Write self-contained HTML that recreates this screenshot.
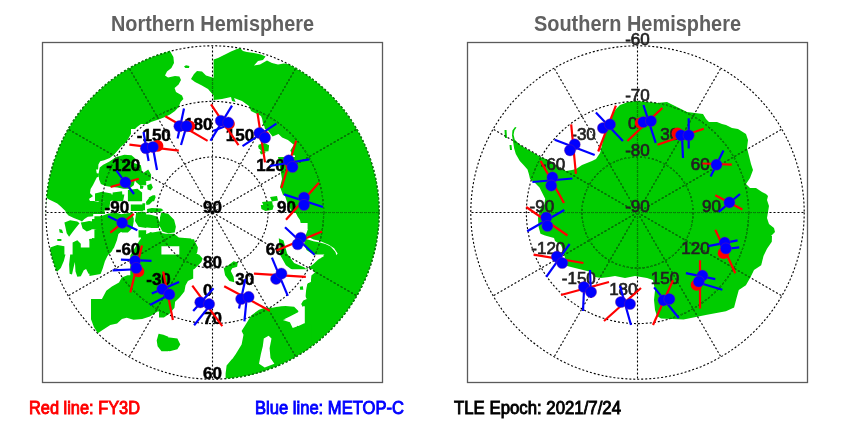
<!DOCTYPE html>
<html><head><meta charset="utf-8"><style>
html,body{margin:0;padding:0;background:#fff;width:850px;height:425px;overflow:hidden}
svg{display:block;will-change:transform}
.g{fill:none;stroke:#000;stroke-width:1.1;stroke-dasharray:2 2}
.gg{fill:none;stroke:#088f08;stroke-width:1.25;stroke-dasharray:2 2}
.t{font-family:"Liberation Sans",sans-serif;font-size:17.5px;fill:#000;stroke-width:0.9px}
.ln{font-family:"Liberation Sans",sans-serif;font-weight:bold;font-size:17px;fill:#000;stroke:#000;stroke-width:0.5px}
.ls{font-family:"Liberation Sans",sans-serif;font-size:17px;fill:#222;stroke:#222;stroke-width:0.7px}
.ttl{font-family:"Liberation Sans",sans-serif;font-weight:bold;font-size:22px;fill:#606060}
</style></head><body>
<svg width="850" height="425" viewBox="0 0 850 425">
<defs>
<clipPath id="cn"><circle cx="212.5" cy="212.5" r="166.7"/></clipPath>
<clipPath id="cs"><circle cx="637.5" cy="212.5" r="166.7"/></clipPath>
<mask id="mn" maskUnits="userSpaceOnUse" x="0" y="0" width="850" height="425"><rect x="0" y="0" width="850" height="425" fill="#000"/><path fill="#fff" d="M40.0,40.0 L129.0,40.0 L129.0,129.0 L40.0,129.0Z M125.0,40.0 L170.0,40.0 L170.0,51.0 L173.4,57.0 L174.0,63.0 L171.4,68.0 L167.0,71.6 L165.0,75.6 L168.0,77.6 L175.0,76.0 L179.4,76.4 L181.0,80.0 L178.6,84.4 L174.6,88.0 L176.0,92.0 L182.0,95.6 L183.4,99.0 L180.6,102.0 L178.6,107.0 L175.0,111.0 L170.0,114.4 L165.0,117.0 L160.0,119.0 L151.0,122.0 L139.0,129.0 L125.0,129.0Z M184.0,66.4 L186.0,65.2 L189.4,66.0 L189.0,68.0 L185.4,68.0Z M191.0,79.0 L194.0,74.0 L197.0,71.0 L202.0,71.6 L206.0,75.6 L214.0,78.0 L214.0,96.0 L208.0,89.0 L201.0,85.0 L195.0,82.0Z M213.6,59.6 L218.0,58.0 L224.0,55.0 L231.0,51.6 L237.0,49.0 L240.0,48.0 L243.0,51.0 L247.0,52.0 L254.0,53.0 L261.0,54.4 L265.6,56.4 L263.0,60.0 L258.0,61.0 L254.0,65.6 L260.0,64.4 L267.0,60.4 L272.0,63.0 L278.0,64.4 L284.0,63.6 L290.0,64.4 L299.0,66.0 L299.0,129.0 L265.0,129.0 L263.0,121.0 L261.0,116.0 L255.0,113.0 L251.0,111.0 L249.0,106.0 L242.0,101.0 L234.0,98.0 L235.6,102.0 L232.0,101.0 L231.0,97.0 L222.0,99.0 L213.6,100.0Z M295.0,40.0 L384.0,40.0 L384.0,129.0 L295.0,129.0Z M40.0,125.0 L129.0,125.0 L129.0,214.0 L40.0,214.0Z M125.0,125.0 L131.0,125.0 L131.0,141.0 L125.0,142.0Z M262.1,118.8 L306.2,118.8 L306.2,156.5 L292.6,155.3 L290.3,150.6 L293.8,144.7 L287.9,140.0 L282.1,137.6 L278.5,134.1 L272.6,136.5 L267.9,130.6 L263.2,124.7Z M258.5,144.7 L264.4,142.9 L269.1,145.3 L268.5,151.2 L262.1,151.8 L258.5,148.2Z M293.8,157.6 L306.2,157.6 L306.2,171.2 L293.8,171.2Z M299.0,157.0 L299.0,196.0 L283.0,195.0 L280.0,187.0 L282.0,179.0 L281.0,173.0 L278.0,157.0Z M258.0,146.0 L263.0,144.6 L266.4,147.0 L264.4,149.4 L259.0,149.0Z M259.6,151.4 L264.4,150.6 L265.6,153.0 L261.0,154.4Z M295.0,125.0 L384.0,125.0 L384.0,214.0 L295.0,214.0Z M290.8,203.8 L343.2,203.8 L343.2,256.2 L290.8,256.2Z M340.8,203.8 L393.2,203.8 L393.2,256.2 L340.8,256.2Z M290.8,253.8 L343.2,253.8 L343.2,306.2 L290.8,306.2Z M340.8,253.8 L393.2,253.8 L393.2,306.2 L340.8,306.2Z M304.8,289.0 L383.0,289.0 L383.0,373.0 L304.8,373.0Z"/><path fill="#000" d="M128.0,153.3 L122.5,154.3 L118.4,156.4 L114.9,159.2 L110.3,161.9 L105.3,163.4 L102.2,166.0 L101.7,171.0 L98.0,171.0 L98.4,164.4 L100.2,161.2 L104.2,160.2 L109.8,157.9 L114.4,154.3 L118.4,149.8 L120.9,146.7 L124.0,144.2 L128.0,141.2Z M96.1,169.5 L100.7,169.5 L100.2,175.1 L101.2,179.1 L98.7,184.2 L100.2,188.2 L104.2,190.2 L110.3,188.2 L116.4,186.7 L128.0,186.2 L128.0,191.8 L119.4,190.7 L114.4,192.3 L110.3,194.3 L107.3,195.3 L104.2,196.3 L102.2,199.4 L98.2,201.4 L94.1,200.4 L90.1,200.4 L89.1,198.8 L93.1,196.3 L90.1,193.3 L90.6,189.2 L93.1,185.2 L95.6,181.1 L97.2,176.1Z M150.0,124.0 L150.0,214.0 L105.0,214.0 L104.0,205.0 L102.0,199.0 L98.0,202.0 L94.0,201.0 L90.0,201.0 L89.0,199.0 L93.0,196.0 L90.0,193.0 L90.6,189.0 L93.0,185.0 L97.0,177.0 L97.5,172.0 L99.2,163.4 L108.3,159.4 L116.4,153.3 L122.5,145.7 L127.0,141.0 L132.0,132.0 L137.0,127.0 L141.0,124.0Z M40.0,196.0 L46.0,197.6 L49.0,199.4 L53.8,201.8 L57.3,203.5 L60.8,206.5 L64.4,210.0 L67.3,212.4 L67.3,214.5 L40.0,214.5Z M262.9,211.8 L295.3,211.8 L297.6,216.5 L300.0,220.0 L300.8,223.5 L304.1,226.5 L308.2,230.0 L262.9,230.0Z M266.5,222.9 L307.6,222.9 L307.6,230.0 L305.9,234.7 L304.1,244.1 L306.5,250.0 L313.5,254.7 L320.6,255.3 L324.1,256.1 L318.2,259.4 L313.5,264.1 L308.8,267.6 L305.9,270.0 L310.0,274.7 L307.6,281.8 L266.5,281.8Z M307.6,236.5 L313.5,239.4 L319.4,240.8 L324.1,242.7 L328.8,244.7 L334.1,248.2 L337.6,253.5 L336.5,255.3 L335.3,251.8 L330.6,246.5 L325.3,243.9 L320.0,242.4 L313.5,241.2 L305.3,238.8Z M287.3,254.4 L324.4,254.4 L321.4,257.9 L315.5,259.7 L312.0,263.2 L309.1,267.9 L313.8,270.9 L314.9,272.6 L311.4,275.6 L310.8,282.1 L307.3,283.2 L306.1,290.3 L305.5,297.4 L303.8,300.3 L301.4,299.1 L297.9,296.8 L294.4,297.9 L287.3,299.7Z"/><path fill="#fff" d="M270.0,197.0 L277.0,196.0 L278.0,200.6 L272.0,201.4Z M262.0,202.0 L272.0,201.0 L273.0,206.0 L264.0,207.0Z M266.0,206.6 L270.0,206.0 L270.4,209.0 L266.4,209.0Z M93.2,211.5 L93.2,216.2 L87.9,216.8 L84.4,219.1 L82.0,221.5 L79.6,220.3 L73.8,217.9 L68.5,215.6 L64.9,211.5Z M84.4,222.1 L89.1,220.9 L93.2,221.5 L93.2,228.5 L90.2,230.3 L86.7,231.5 L82.6,228.5 L80.8,222.6Z M64.4,222.6 L70.2,220.3 L77.3,221.5 L79.6,223.2 L76.1,227.4 L72.6,232.1 L69.1,236.8 L66.7,233.2 L65.5,227.4Z M59.1,229.1 L62.0,229.7 L63.2,233.2 L59.6,232.6Z M57.3,239.1 L61.4,239.1 L61.4,240.9 L57.3,240.9Z M50.2,247.4 L57.3,245.0 L64.4,246.2 L64.4,256.2 L50.2,256.2Z M72.6,242.6 L77.3,240.3 L80.8,243.8 L80.8,247.4 L93.2,247.4 L93.2,256.2 L72.6,256.2Z M89.1,239.1 L93.2,238.5 L93.2,243.8 L89.6,243.8Z M92.0,219.1 L97.9,218.5 L101.4,221.5 L101.4,228.5 L96.7,229.7 L92.0,229.1Z M92.0,237.9 L97.9,238.5 L97.9,244.4 L92.0,245.0Z M130.8,204.4 L143.2,204.4 L143.2,210.9 L130.8,210.9Z M91.4,204.4 L102.6,204.4 L102.6,210.9 L91.4,211.5Z M191.4,241.5 L195.5,242.6 L197.9,247.4 L197.3,252.1 L195.5,256.2 L191.4,256.2Z M260.8,205.0 L267.9,204.4 L273.8,205.6 L272.6,209.7 L265.5,210.9 L261.4,209.1Z M289.4,258.8 L293.5,262.9 L299.4,267.1 L305.3,268.6 L308.2,268.2 L306.5,270.6 L300.6,271.2 L294.7,268.8 L289.4,265.3Z M278.8,238.2 L283.5,240.6 L287.1,253.5 L294.1,262.9 L304.7,267.6 L305.9,271.2 L294.1,271.2 L285.9,265.3 L280.0,254.7Z M41.4,254.4 L65.5,254.4 L63.8,260.9 L60.8,267.9 L57.3,271.5 L41.4,271.5Z M70.2,254.4 L93.2,254.4 L93.2,273.2 L88.5,273.8 L86.1,269.1 L83.8,270.3 L80.8,276.2 L77.3,276.8 L75.5,271.5 L74.9,262.1 L73.2,269.1 L72.0,274.4 L69.6,273.8 L69.1,264.4Z M141.4,254.4 L189.1,254.4 L193.2,257.4 L193.2,278.5 L187.9,280.9 L185.5,285.6 L184.4,291.5 L179.6,297.4 L174.9,302.1 L172.6,306.2 L141.4,306.2Z M191.4,254.4 L199.1,254.4 L202.6,258.5 L201.4,262.1 L197.9,265.6 L194.4,269.1 L191.4,270.3Z M291.4,265.6 L296.7,267.9 L301.4,269.1 L304.9,269.1 L303.8,271.5 L299.1,272.6 L291.4,272.6Z M299.1,285.6 L302.0,286.2 L302.6,290.3 L299.6,290.3Z M91.0,299.0 L168.3,299.0 L168.3,310.6 L157.6,311.6 L149.9,316.4 L142.2,318.9 L133.5,319.7 L126.7,317.8 L121.9,318.9 L117.1,323.6 L110.3,325.1 L102.6,329.9 L97.8,333.2 L93.9,327.0 L91.0,319.3Z M158.6,333.8 L163.4,334.7 L168.3,336.7 L168.3,351.2 L161.5,351.2 L157.6,346.3 L156.7,340.5Z M159.0,299.0 L175.4,299.0 L174.5,307.7 L169.7,313.5 L163.9,317.4 L159.0,317.4Z M159.0,333.8 L163.9,336.7 L169.7,337.6 L177.4,338.6 L180.3,344.4 L177.4,349.2 L169.7,351.2 L163.9,349.2 L159.0,346.3Z M225.6,373.4 L226.6,365.6 L231.4,359.8 L237.2,354.1 L241.1,350.2 L241.1,384.9 L225.6,384.9Z M229.0,363.7 L235.8,354.1 L241.6,344.4 L243.5,334.7 L241.6,330.9 L245.4,325.1 L251.2,315.4 L259.0,309.7 L264.7,307.7 L272.5,307.7 L282.1,305.8 L293.7,305.8 L299.5,302.9 L303.4,305.8 L299.5,311.6 L295.6,313.5 L289.8,316.4 L284.1,319.3 L287.9,320.3 L295.6,321.2 L293.7,325.1 L298.5,326.1 L304.3,323.2 L311.1,325.1 L311.1,384.9 L229.0,384.9Z M284.0,193.0 L300.0,193.0 L300.0,213.0 L293.0,213.0 L288.0,205.0Z M100.0,216.3 L102.8,215.6 L108.5,213.5 L116.9,212.8 L124.0,215.6 L132.5,214.9 L133.9,219.1 L131.1,226.2 L128.2,231.8 L121.2,231.8 L118.4,234.0 L116.9,240.3 L114.1,247.4 L111.3,251.6 L105.6,258.0 L94.4,261.5 L94.4,216.3Z M141.0,237.5 L148.0,233.2 L161.4,231.1 L161.4,266.4 L138.1,266.4 L141.0,251.6 L140.3,243.1Z M94.3,239.3 L116.2,239.3 L114.8,245.6 L111.9,251.3 L107.7,255.5 L104.9,261.2 L102.8,268.2 L100.6,273.9 L89.4,276.0 L89.4,239.3Z M100.6,301.4 L106.3,290.8 L111.9,286.6 L119.0,282.4 L121.8,277.4 L127.5,275.3 L130.3,275.3 L130.3,255.5 L140.2,239.3 L156.4,239.3 L156.4,301.4Z M98.5,174.1 L99.7,167.6 L103.2,164.7 L109.1,161.8 L116.2,157.1 L124.4,154.7 L131.5,155.3 L135.0,158.2 L133.8,162.9 L140.9,165.3 L142.1,172.4 L139.7,177.1 L135.0,179.4 L133.8,185.3 L129.1,188.8 L123.2,188.8 L117.4,187.6 L111.5,187.1 L105.6,185.9 L100.9,184.1 L99.1,179.4Z M95.0,172.9 L98.5,173.5 L98.5,177.1 L95.0,177.6Z M95.0,193.5 L102.1,191.8 L111.5,193.5 L111.5,201.2 L95.0,201.2Z M112.6,192.4 L122.1,191.2 L122.6,201.2 L112.6,201.2Z M127.9,190.0 L137.4,188.8 L142.1,192.4 L142.1,201.2 L127.9,201.2Z M135.0,173.5 L142.1,172.4 L146.2,174.7 L146.2,185.3 L139.7,185.3 L135.6,181.8Z M142.4,173.5 L148.2,169.4 L151.2,174.7 L150.6,180.6 L144.7,181.2 L140.0,179.4 L140.0,175.3Z M147.1,185.3 L151.2,183.5 L152.9,187.6 L150.6,190.6 L147.6,189.4Z M140.0,185.3 L143.5,185.9 L142.9,188.8 L140.0,188.8Z M148.8,197.6 L152.9,195.3 L155.9,196.5 L154.1,201.2 L148.2,201.2Z M95.0,195.0 L102.1,195.0 L101.5,199.7 L95.0,199.7Z M110.3,194.4 L124.4,194.4 L123.2,200.9 L110.3,200.3Z M130.3,194.4 L139.7,194.4 L139.1,200.9 L130.3,200.9Z M95.0,202.1 L99.7,202.1 L99.7,210.3 L95.0,210.3Z M100.9,201.5 L110.3,200.9 L109.1,210.3 L100.9,210.3Z M133.8,204.4 L145.0,204.4 L145.0,210.3 L133.8,210.3Z M103.2,218.5 L107.9,215.0 L115.0,215.0 L124.4,213.8 L132.6,212.6 L133.8,220.9 L132.6,227.9 L127.9,232.6 L122.1,232.6 L118.5,230.3 L115.0,233.8 L110.3,237.4 L106.8,246.2 L102.1,246.2 L102.1,230.3 L102.1,223.2Z M95.0,217.4 L99.7,218.5 L100.9,225.6 L95.0,227.9Z M136.2,212.6 L142.1,211.5 L146.2,212.6 L146.2,227.9 L138.5,226.8 L135.0,220.9Z M138.5,230.3 L146.2,230.3 L146.2,237.4 L138.5,237.4Z M95.0,232.6 L99.7,232.6 L99.7,239.7 L95.0,239.7Z M145.9,202.1 L149.4,197.4 L155.3,195.0 L154.1,199.7 L149.4,204.4 L146.5,205.0Z M142.4,203.2 L145.3,203.2 L144.7,209.1 L142.4,209.1Z M147.1,209.1 L151.8,207.9 L161.2,208.5 L163.5,210.3 L160.0,212.1 L154.1,212.6 L147.1,212.6Z M140.0,214.4 L144.7,213.8 L151.8,215.0 L157.6,216.8 L160.0,223.2 L158.8,227.9 L151.8,227.9 L140.0,226.8Z M161.2,212.6 L168.2,213.8 L174.1,219.7 L175.9,226.8 L174.7,232.6 L168.2,233.2 L162.4,231.5 L159.4,225.6 L160.0,217.4Z M141.2,239.7 L144.7,235.6 L150.6,232.1 L155.3,233.8 L158.8,232.6 L165.9,233.8 L174.1,233.8 L178.8,237.4 L191.2,238.5 L191.2,246.2 L140.0,246.2Z M179.3,239.3 L194.1,239.3 L196.9,248.5 L193.4,251.3 L197.6,254.1 L201.9,258.3 L195.5,264.0 L193.4,268.2 L191.3,276.7 L187.1,282.3 L180.0,296.4 L179.3,296.4Z M223.7,268.2 L228.0,265.4 L233.6,261.2 L237.8,262.6 L237.1,266.8 L232.2,268.2 L230.8,271.0 L233.6,276.7 L234.3,282.3 L229.4,280.9 L225.1,275.3Z"/><path fill="#000" d="M263.8,338.6 L268.6,335.7 L271.5,338.6 L269.6,348.3 L270.5,357.9 L274.4,363.7 L264.7,367.6 L259.0,363.7 L260.9,354.1 L262.8,346.3Z M277.2,269.3 L313.2,269.3 L310.4,274.2 L311.1,281.3 L307.5,283.4 L305.4,288.4 L304.7,295.4 L306.8,299.0 L303.3,300.4 L301.2,303.9 L303.3,308.1 L300.5,312.4 L301.9,316.6 L301.2,320.8 L298.4,323.7 L296.9,326.5 L292.7,327.9 L289.9,322.3 L282.8,320.1 L292.7,318.0 L297.7,315.2 L298.4,311.0 L294.1,306.7 L285.6,306.0 L277.2,306.4Z"/><path fill="#fff" d="M299.8,286.7 L302.9,286.2 L303.3,289.8 L300.1,289.8Z"/></mask>
<mask id="ms" maskUnits="userSpaceOnUse" x="0" y="0" width="850" height="425"><rect x="0" y="0" width="850" height="425" fill="#000"/><path fill="#fff" d="M637.0,101.0 L647.0,102.0 L657.0,103.0 L667.0,102.0 L673.0,105.0 L679.0,108.0 L687.0,112.0 L695.0,113.0 L703.0,114.0 L706.0,119.0 L709.0,122.0 L717.0,122.0 L722.0,124.0 L726.0,125.0 L732.0,128.0 L738.0,129.0 L746.0,134.0 L748.0,140.0 L747.0,148.0 L749.0,156.0 L751.0,164.0 L753.0,170.0 L750.0,178.0 L746.0,184.0 L750.0,188.0 L756.0,188.0 L762.0,192.0 L766.0,194.0 L768.0,196.0 L767.0,200.0 L769.0,206.0 L768.0,212.0 L767.0,218.0 L769.0,224.0 L774.0,228.0 L775.0,232.0 L771.0,236.0 L772.0,236.0 L771.8,241.8 L767.0,248.8 L763.5,255.9 L761.2,265.3 L754.0,270.0 L750.6,277.0 L745.9,285.3 L738.8,290.0 L736.5,298.2 L734.1,307.6 L725.9,311.2 L707.0,314.7 L683.5,319.4 L661.0,318.5 L657.0,316.0 L655.0,310.0 L654.0,300.0 L655.0,290.0 L653.0,280.0 L647.0,278.0 L635.0,276.0 L625.0,278.0 L615.0,276.0 L609.0,277.0 L601.0,278.0 L595.0,277.0 L591.0,272.0 L583.0,270.0 L575.0,268.0 L567.0,266.0 L565.0,258.0 L563.0,250.0 L561.0,245.0 L555.0,241.0 L554.0,238.0 L545.0,235.6 L540.5,233.7 L538.6,227.0 L538.0,218.0 L540.5,208.2 L544.3,204.5 L545.2,198.8 L542.4,193.2 L539.5,187.5 L534.8,182.8 L530.0,179.0 L529.0,174.4 L527.5,169.4 L524.0,165.5 L519.8,161.0 L515.8,153.9 L514.1,148.2 L513.0,141.2 L512.0,135.5 L512.4,130.6 L515.0,127.0 L516.5,127.5 L514.4,130.6 L513.6,134.8 L514.8,139.8 L519.8,144.7 L525.4,148.2 L531.1,151.4 L536.0,154.2 L540.3,157.0 L546.0,159.0 L552.0,162.0 L560.0,168.0 L566.0,171.0 L572.0,170.0 L576.0,169.0 L582.0,165.0 L592.0,161.0 L596.0,159.0 L600.0,153.0 L602.0,145.0 L604.0,135.0 L608.0,125.0 L612.0,115.0 L616.0,109.0 L620.0,105.0 L628.0,102.0Z M504.5,130.0 L506.5,130.0 L507.0,138.0 L505.0,138.0Z M509.5,145.0 L511.5,145.0 L512.0,150.0 L510.0,150.0Z"/></mask>
</defs>
<rect x="42.5" y="42.5" width="340" height="340" fill="none" stroke="#5a5a5a" stroke-width="1.3"/>
<rect x="467.5" y="42.5" width="340" height="340" fill="none" stroke="#5a5a5a" stroke-width="1.3"/>
<g clip-path="url(#cn)"><path fill="#00cc00" d="M40.0,40.0 L129.0,40.0 L129.0,129.0 L40.0,129.0Z M125.0,40.0 L170.0,40.0 L170.0,51.0 L173.4,57.0 L174.0,63.0 L171.4,68.0 L167.0,71.6 L165.0,75.6 L168.0,77.6 L175.0,76.0 L179.4,76.4 L181.0,80.0 L178.6,84.4 L174.6,88.0 L176.0,92.0 L182.0,95.6 L183.4,99.0 L180.6,102.0 L178.6,107.0 L175.0,111.0 L170.0,114.4 L165.0,117.0 L160.0,119.0 L151.0,122.0 L139.0,129.0 L125.0,129.0Z M184.0,66.4 L186.0,65.2 L189.4,66.0 L189.0,68.0 L185.4,68.0Z M191.0,79.0 L194.0,74.0 L197.0,71.0 L202.0,71.6 L206.0,75.6 L214.0,78.0 L214.0,96.0 L208.0,89.0 L201.0,85.0 L195.0,82.0Z M213.6,59.6 L218.0,58.0 L224.0,55.0 L231.0,51.6 L237.0,49.0 L240.0,48.0 L243.0,51.0 L247.0,52.0 L254.0,53.0 L261.0,54.4 L265.6,56.4 L263.0,60.0 L258.0,61.0 L254.0,65.6 L260.0,64.4 L267.0,60.4 L272.0,63.0 L278.0,64.4 L284.0,63.6 L290.0,64.4 L299.0,66.0 L299.0,129.0 L265.0,129.0 L263.0,121.0 L261.0,116.0 L255.0,113.0 L251.0,111.0 L249.0,106.0 L242.0,101.0 L234.0,98.0 L235.6,102.0 L232.0,101.0 L231.0,97.0 L222.0,99.0 L213.6,100.0Z M295.0,40.0 L384.0,40.0 L384.0,129.0 L295.0,129.0Z M40.0,125.0 L129.0,125.0 L129.0,214.0 L40.0,214.0Z M125.0,125.0 L131.0,125.0 L131.0,141.0 L125.0,142.0Z M262.1,118.8 L306.2,118.8 L306.2,156.5 L292.6,155.3 L290.3,150.6 L293.8,144.7 L287.9,140.0 L282.1,137.6 L278.5,134.1 L272.6,136.5 L267.9,130.6 L263.2,124.7Z M258.5,144.7 L264.4,142.9 L269.1,145.3 L268.5,151.2 L262.1,151.8 L258.5,148.2Z M293.8,157.6 L306.2,157.6 L306.2,171.2 L293.8,171.2Z M299.0,157.0 L299.0,196.0 L283.0,195.0 L280.0,187.0 L282.0,179.0 L281.0,173.0 L278.0,157.0Z M258.0,146.0 L263.0,144.6 L266.4,147.0 L264.4,149.4 L259.0,149.0Z M259.6,151.4 L264.4,150.6 L265.6,153.0 L261.0,154.4Z M295.0,125.0 L384.0,125.0 L384.0,214.0 L295.0,214.0Z M290.8,203.8 L343.2,203.8 L343.2,256.2 L290.8,256.2Z M340.8,203.8 L393.2,203.8 L393.2,256.2 L340.8,256.2Z M290.8,253.8 L343.2,253.8 L343.2,306.2 L290.8,306.2Z M340.8,253.8 L393.2,253.8 L393.2,306.2 L340.8,306.2Z M304.8,289.0 L383.0,289.0 L383.0,373.0 L304.8,373.0Z"/><path fill="#fff" d="M128.0,153.3 L122.5,154.3 L118.4,156.4 L114.9,159.2 L110.3,161.9 L105.3,163.4 L102.2,166.0 L101.7,171.0 L98.0,171.0 L98.4,164.4 L100.2,161.2 L104.2,160.2 L109.8,157.9 L114.4,154.3 L118.4,149.8 L120.9,146.7 L124.0,144.2 L128.0,141.2Z M96.1,169.5 L100.7,169.5 L100.2,175.1 L101.2,179.1 L98.7,184.2 L100.2,188.2 L104.2,190.2 L110.3,188.2 L116.4,186.7 L128.0,186.2 L128.0,191.8 L119.4,190.7 L114.4,192.3 L110.3,194.3 L107.3,195.3 L104.2,196.3 L102.2,199.4 L98.2,201.4 L94.1,200.4 L90.1,200.4 L89.1,198.8 L93.1,196.3 L90.1,193.3 L90.6,189.2 L93.1,185.2 L95.6,181.1 L97.2,176.1Z M150.0,124.0 L150.0,214.0 L105.0,214.0 L104.0,205.0 L102.0,199.0 L98.0,202.0 L94.0,201.0 L90.0,201.0 L89.0,199.0 L93.0,196.0 L90.0,193.0 L90.6,189.0 L93.0,185.0 L97.0,177.0 L97.5,172.0 L99.2,163.4 L108.3,159.4 L116.4,153.3 L122.5,145.7 L127.0,141.0 L132.0,132.0 L137.0,127.0 L141.0,124.0Z M40.0,196.0 L46.0,197.6 L49.0,199.4 L53.8,201.8 L57.3,203.5 L60.8,206.5 L64.4,210.0 L67.3,212.4 L67.3,214.5 L40.0,214.5Z M262.9,211.8 L295.3,211.8 L297.6,216.5 L300.0,220.0 L300.8,223.5 L304.1,226.5 L308.2,230.0 L262.9,230.0Z M266.5,222.9 L307.6,222.9 L307.6,230.0 L305.9,234.7 L304.1,244.1 L306.5,250.0 L313.5,254.7 L320.6,255.3 L324.1,256.1 L318.2,259.4 L313.5,264.1 L308.8,267.6 L305.9,270.0 L310.0,274.7 L307.6,281.8 L266.5,281.8Z M307.6,236.5 L313.5,239.4 L319.4,240.8 L324.1,242.7 L328.8,244.7 L334.1,248.2 L337.6,253.5 L336.5,255.3 L335.3,251.8 L330.6,246.5 L325.3,243.9 L320.0,242.4 L313.5,241.2 L305.3,238.8Z M287.3,254.4 L324.4,254.4 L321.4,257.9 L315.5,259.7 L312.0,263.2 L309.1,267.9 L313.8,270.9 L314.9,272.6 L311.4,275.6 L310.8,282.1 L307.3,283.2 L306.1,290.3 L305.5,297.4 L303.8,300.3 L301.4,299.1 L297.9,296.8 L294.4,297.9 L287.3,299.7Z"/><path fill="#00cc00" d="M270.0,197.0 L277.0,196.0 L278.0,200.6 L272.0,201.4Z M262.0,202.0 L272.0,201.0 L273.0,206.0 L264.0,207.0Z M266.0,206.6 L270.0,206.0 L270.4,209.0 L266.4,209.0Z M93.2,211.5 L93.2,216.2 L87.9,216.8 L84.4,219.1 L82.0,221.5 L79.6,220.3 L73.8,217.9 L68.5,215.6 L64.9,211.5Z M84.4,222.1 L89.1,220.9 L93.2,221.5 L93.2,228.5 L90.2,230.3 L86.7,231.5 L82.6,228.5 L80.8,222.6Z M64.4,222.6 L70.2,220.3 L77.3,221.5 L79.6,223.2 L76.1,227.4 L72.6,232.1 L69.1,236.8 L66.7,233.2 L65.5,227.4Z M59.1,229.1 L62.0,229.7 L63.2,233.2 L59.6,232.6Z M57.3,239.1 L61.4,239.1 L61.4,240.9 L57.3,240.9Z M50.2,247.4 L57.3,245.0 L64.4,246.2 L64.4,256.2 L50.2,256.2Z M72.6,242.6 L77.3,240.3 L80.8,243.8 L80.8,247.4 L93.2,247.4 L93.2,256.2 L72.6,256.2Z M89.1,239.1 L93.2,238.5 L93.2,243.8 L89.6,243.8Z M92.0,219.1 L97.9,218.5 L101.4,221.5 L101.4,228.5 L96.7,229.7 L92.0,229.1Z M92.0,237.9 L97.9,238.5 L97.9,244.4 L92.0,245.0Z M130.8,204.4 L143.2,204.4 L143.2,210.9 L130.8,210.9Z M91.4,204.4 L102.6,204.4 L102.6,210.9 L91.4,211.5Z M191.4,241.5 L195.5,242.6 L197.9,247.4 L197.3,252.1 L195.5,256.2 L191.4,256.2Z M260.8,205.0 L267.9,204.4 L273.8,205.6 L272.6,209.7 L265.5,210.9 L261.4,209.1Z M289.4,258.8 L293.5,262.9 L299.4,267.1 L305.3,268.6 L308.2,268.2 L306.5,270.6 L300.6,271.2 L294.7,268.8 L289.4,265.3Z M278.8,238.2 L283.5,240.6 L287.1,253.5 L294.1,262.9 L304.7,267.6 L305.9,271.2 L294.1,271.2 L285.9,265.3 L280.0,254.7Z M41.4,254.4 L65.5,254.4 L63.8,260.9 L60.8,267.9 L57.3,271.5 L41.4,271.5Z M70.2,254.4 L93.2,254.4 L93.2,273.2 L88.5,273.8 L86.1,269.1 L83.8,270.3 L80.8,276.2 L77.3,276.8 L75.5,271.5 L74.9,262.1 L73.2,269.1 L72.0,274.4 L69.6,273.8 L69.1,264.4Z M141.4,254.4 L189.1,254.4 L193.2,257.4 L193.2,278.5 L187.9,280.9 L185.5,285.6 L184.4,291.5 L179.6,297.4 L174.9,302.1 L172.6,306.2 L141.4,306.2Z M191.4,254.4 L199.1,254.4 L202.6,258.5 L201.4,262.1 L197.9,265.6 L194.4,269.1 L191.4,270.3Z M291.4,265.6 L296.7,267.9 L301.4,269.1 L304.9,269.1 L303.8,271.5 L299.1,272.6 L291.4,272.6Z M299.1,285.6 L302.0,286.2 L302.6,290.3 L299.6,290.3Z M91.0,299.0 L168.3,299.0 L168.3,310.6 L157.6,311.6 L149.9,316.4 L142.2,318.9 L133.5,319.7 L126.7,317.8 L121.9,318.9 L117.1,323.6 L110.3,325.1 L102.6,329.9 L97.8,333.2 L93.9,327.0 L91.0,319.3Z M158.6,333.8 L163.4,334.7 L168.3,336.7 L168.3,351.2 L161.5,351.2 L157.6,346.3 L156.7,340.5Z M159.0,299.0 L175.4,299.0 L174.5,307.7 L169.7,313.5 L163.9,317.4 L159.0,317.4Z M159.0,333.8 L163.9,336.7 L169.7,337.6 L177.4,338.6 L180.3,344.4 L177.4,349.2 L169.7,351.2 L163.9,349.2 L159.0,346.3Z M225.6,373.4 L226.6,365.6 L231.4,359.8 L237.2,354.1 L241.1,350.2 L241.1,384.9 L225.6,384.9Z M229.0,363.7 L235.8,354.1 L241.6,344.4 L243.5,334.7 L241.6,330.9 L245.4,325.1 L251.2,315.4 L259.0,309.7 L264.7,307.7 L272.5,307.7 L282.1,305.8 L293.7,305.8 L299.5,302.9 L303.4,305.8 L299.5,311.6 L295.6,313.5 L289.8,316.4 L284.1,319.3 L287.9,320.3 L295.6,321.2 L293.7,325.1 L298.5,326.1 L304.3,323.2 L311.1,325.1 L311.1,384.9 L229.0,384.9Z M284.0,193.0 L300.0,193.0 L300.0,213.0 L293.0,213.0 L288.0,205.0Z M100.0,216.3 L102.8,215.6 L108.5,213.5 L116.9,212.8 L124.0,215.6 L132.5,214.9 L133.9,219.1 L131.1,226.2 L128.2,231.8 L121.2,231.8 L118.4,234.0 L116.9,240.3 L114.1,247.4 L111.3,251.6 L105.6,258.0 L94.4,261.5 L94.4,216.3Z M141.0,237.5 L148.0,233.2 L161.4,231.1 L161.4,266.4 L138.1,266.4 L141.0,251.6 L140.3,243.1Z M94.3,239.3 L116.2,239.3 L114.8,245.6 L111.9,251.3 L107.7,255.5 L104.9,261.2 L102.8,268.2 L100.6,273.9 L89.4,276.0 L89.4,239.3Z M100.6,301.4 L106.3,290.8 L111.9,286.6 L119.0,282.4 L121.8,277.4 L127.5,275.3 L130.3,275.3 L130.3,255.5 L140.2,239.3 L156.4,239.3 L156.4,301.4Z M98.5,174.1 L99.7,167.6 L103.2,164.7 L109.1,161.8 L116.2,157.1 L124.4,154.7 L131.5,155.3 L135.0,158.2 L133.8,162.9 L140.9,165.3 L142.1,172.4 L139.7,177.1 L135.0,179.4 L133.8,185.3 L129.1,188.8 L123.2,188.8 L117.4,187.6 L111.5,187.1 L105.6,185.9 L100.9,184.1 L99.1,179.4Z M95.0,172.9 L98.5,173.5 L98.5,177.1 L95.0,177.6Z M95.0,193.5 L102.1,191.8 L111.5,193.5 L111.5,201.2 L95.0,201.2Z M112.6,192.4 L122.1,191.2 L122.6,201.2 L112.6,201.2Z M127.9,190.0 L137.4,188.8 L142.1,192.4 L142.1,201.2 L127.9,201.2Z M135.0,173.5 L142.1,172.4 L146.2,174.7 L146.2,185.3 L139.7,185.3 L135.6,181.8Z M142.4,173.5 L148.2,169.4 L151.2,174.7 L150.6,180.6 L144.7,181.2 L140.0,179.4 L140.0,175.3Z M147.1,185.3 L151.2,183.5 L152.9,187.6 L150.6,190.6 L147.6,189.4Z M140.0,185.3 L143.5,185.9 L142.9,188.8 L140.0,188.8Z M148.8,197.6 L152.9,195.3 L155.9,196.5 L154.1,201.2 L148.2,201.2Z M95.0,195.0 L102.1,195.0 L101.5,199.7 L95.0,199.7Z M110.3,194.4 L124.4,194.4 L123.2,200.9 L110.3,200.3Z M130.3,194.4 L139.7,194.4 L139.1,200.9 L130.3,200.9Z M95.0,202.1 L99.7,202.1 L99.7,210.3 L95.0,210.3Z M100.9,201.5 L110.3,200.9 L109.1,210.3 L100.9,210.3Z M133.8,204.4 L145.0,204.4 L145.0,210.3 L133.8,210.3Z M103.2,218.5 L107.9,215.0 L115.0,215.0 L124.4,213.8 L132.6,212.6 L133.8,220.9 L132.6,227.9 L127.9,232.6 L122.1,232.6 L118.5,230.3 L115.0,233.8 L110.3,237.4 L106.8,246.2 L102.1,246.2 L102.1,230.3 L102.1,223.2Z M95.0,217.4 L99.7,218.5 L100.9,225.6 L95.0,227.9Z M136.2,212.6 L142.1,211.5 L146.2,212.6 L146.2,227.9 L138.5,226.8 L135.0,220.9Z M138.5,230.3 L146.2,230.3 L146.2,237.4 L138.5,237.4Z M95.0,232.6 L99.7,232.6 L99.7,239.7 L95.0,239.7Z M145.9,202.1 L149.4,197.4 L155.3,195.0 L154.1,199.7 L149.4,204.4 L146.5,205.0Z M142.4,203.2 L145.3,203.2 L144.7,209.1 L142.4,209.1Z M147.1,209.1 L151.8,207.9 L161.2,208.5 L163.5,210.3 L160.0,212.1 L154.1,212.6 L147.1,212.6Z M140.0,214.4 L144.7,213.8 L151.8,215.0 L157.6,216.8 L160.0,223.2 L158.8,227.9 L151.8,227.9 L140.0,226.8Z M161.2,212.6 L168.2,213.8 L174.1,219.7 L175.9,226.8 L174.7,232.6 L168.2,233.2 L162.4,231.5 L159.4,225.6 L160.0,217.4Z M141.2,239.7 L144.7,235.6 L150.6,232.1 L155.3,233.8 L158.8,232.6 L165.9,233.8 L174.1,233.8 L178.8,237.4 L191.2,238.5 L191.2,246.2 L140.0,246.2Z M179.3,239.3 L194.1,239.3 L196.9,248.5 L193.4,251.3 L197.6,254.1 L201.9,258.3 L195.5,264.0 L193.4,268.2 L191.3,276.7 L187.1,282.3 L180.0,296.4 L179.3,296.4Z M223.7,268.2 L228.0,265.4 L233.6,261.2 L237.8,262.6 L237.1,266.8 L232.2,268.2 L230.8,271.0 L233.6,276.7 L234.3,282.3 L229.4,280.9 L225.1,275.3Z"/><path fill="#fff" d="M263.8,338.6 L268.6,335.7 L271.5,338.6 L269.6,348.3 L270.5,357.9 L274.4,363.7 L264.7,367.6 L259.0,363.7 L260.9,354.1 L262.8,346.3Z M277.2,269.3 L313.2,269.3 L310.4,274.2 L311.1,281.3 L307.5,283.4 L305.4,288.4 L304.7,295.4 L306.8,299.0 L303.3,300.4 L301.2,303.9 L303.3,308.1 L300.5,312.4 L301.9,316.6 L301.2,320.8 L298.4,323.7 L296.9,326.5 L292.7,327.9 L289.9,322.3 L282.8,320.1 L292.7,318.0 L297.7,315.2 L298.4,311.0 L294.1,306.7 L285.6,306.0 L277.2,306.4Z"/><path fill="#00cc00" d="M299.8,286.7 L302.9,286.2 L303.3,289.8 L300.1,289.8Z"/></g>
<g clip-path="url(#cs)"><path fill="#00cc00" d="M637.0,101.0 L647.0,102.0 L657.0,103.0 L667.0,102.0 L673.0,105.0 L679.0,108.0 L687.0,112.0 L695.0,113.0 L703.0,114.0 L706.0,119.0 L709.0,122.0 L717.0,122.0 L722.0,124.0 L726.0,125.0 L732.0,128.0 L738.0,129.0 L746.0,134.0 L748.0,140.0 L747.0,148.0 L749.0,156.0 L751.0,164.0 L753.0,170.0 L750.0,178.0 L746.0,184.0 L750.0,188.0 L756.0,188.0 L762.0,192.0 L766.0,194.0 L768.0,196.0 L767.0,200.0 L769.0,206.0 L768.0,212.0 L767.0,218.0 L769.0,224.0 L774.0,228.0 L775.0,232.0 L771.0,236.0 L772.0,236.0 L771.8,241.8 L767.0,248.8 L763.5,255.9 L761.2,265.3 L754.0,270.0 L750.6,277.0 L745.9,285.3 L738.8,290.0 L736.5,298.2 L734.1,307.6 L725.9,311.2 L707.0,314.7 L683.5,319.4 L661.0,318.5 L657.0,316.0 L655.0,310.0 L654.0,300.0 L655.0,290.0 L653.0,280.0 L647.0,278.0 L635.0,276.0 L625.0,278.0 L615.0,276.0 L609.0,277.0 L601.0,278.0 L595.0,277.0 L591.0,272.0 L583.0,270.0 L575.0,268.0 L567.0,266.0 L565.0,258.0 L563.0,250.0 L561.0,245.0 L555.0,241.0 L554.0,238.0 L545.0,235.6 L540.5,233.7 L538.6,227.0 L538.0,218.0 L540.5,208.2 L544.3,204.5 L545.2,198.8 L542.4,193.2 L539.5,187.5 L534.8,182.8 L530.0,179.0 L529.0,174.4 L527.5,169.4 L524.0,165.5 L519.8,161.0 L515.8,153.9 L514.1,148.2 L513.0,141.2 L512.0,135.5 L512.4,130.6 L515.0,127.0 L516.5,127.5 L514.4,130.6 L513.6,134.8 L514.8,139.8 L519.8,144.7 L525.4,148.2 L531.1,151.4 L536.0,154.2 L540.3,157.0 L546.0,159.0 L552.0,162.0 L560.0,168.0 L566.0,171.0 L572.0,170.0 L576.0,169.0 L582.0,165.0 L592.0,161.0 L596.0,159.0 L600.0,153.0 L602.0,145.0 L604.0,135.0 L608.0,125.0 L612.0,115.0 L616.0,109.0 L620.0,105.0 L628.0,102.0Z M504.5,130.0 L506.5,130.0 L507.0,138.0 L505.0,138.0Z M509.5,145.0 L511.5,145.0 L512.0,150.0 L510.0,150.0Z"/></g>
<circle cx="212.5" cy="212.5" r="55.57" class="g"/>
<circle cx="212.5" cy="212.5" r="111.13" class="g"/>
<line x1="212.5" y1="212.5" x2="212.50" y2="379.20" class="g"/>
<line x1="212.5" y1="212.5" x2="295.85" y2="356.87" class="g"/>
<line x1="212.5" y1="212.5" x2="356.87" y2="295.85" class="g"/>
<line x1="212.5" y1="212.5" x2="379.20" y2="212.50" class="g"/>
<line x1="212.5" y1="212.5" x2="356.87" y2="129.15" class="g"/>
<line x1="212.5" y1="212.5" x2="295.85" y2="68.13" class="g"/>
<line x1="212.5" y1="212.5" x2="212.50" y2="45.80" class="g"/>
<line x1="212.5" y1="212.5" x2="129.15" y2="68.13" class="g"/>
<line x1="212.5" y1="212.5" x2="68.13" y2="129.15" class="g"/>
<line x1="212.5" y1="212.5" x2="45.80" y2="212.50" class="g"/>
<line x1="212.5" y1="212.5" x2="68.13" y2="295.85" class="g"/>
<line x1="212.5" y1="212.5" x2="129.15" y2="356.87" class="g"/>
<circle cx="212.5" cy="212.5" r="166.7" class="g"/>
<circle cx="637.5" cy="212.5" r="55.57" class="g"/>
<circle cx="637.5" cy="212.5" r="111.13" class="g"/>
<line x1="637.5" y1="212.5" x2="637.50" y2="379.20" class="g"/>
<line x1="637.5" y1="212.5" x2="720.85" y2="356.87" class="g"/>
<line x1="637.5" y1="212.5" x2="781.87" y2="295.85" class="g"/>
<line x1="637.5" y1="212.5" x2="804.20" y2="212.50" class="g"/>
<line x1="637.5" y1="212.5" x2="781.87" y2="129.15" class="g"/>
<line x1="637.5" y1="212.5" x2="720.85" y2="68.13" class="g"/>
<line x1="637.5" y1="212.5" x2="637.50" y2="45.80" class="g"/>
<line x1="637.5" y1="212.5" x2="554.15" y2="68.13" class="g"/>
<line x1="637.5" y1="212.5" x2="493.13" y2="129.15" class="g"/>
<line x1="637.5" y1="212.5" x2="470.80" y2="212.50" class="g"/>
<line x1="637.5" y1="212.5" x2="493.13" y2="295.85" class="g"/>
<line x1="637.5" y1="212.5" x2="554.15" y2="356.87" class="g"/>
<circle cx="637.5" cy="212.5" r="166.7" class="g"/>
<g mask="url(#mn)" style="--c:1"><circle cx="212.5" cy="212.5" r="55.57" class="gg"/>
<circle cx="212.5" cy="212.5" r="111.13" class="gg"/>
<line x1="212.5" y1="212.5" x2="212.50" y2="379.20" class="gg"/>
<line x1="212.5" y1="212.5" x2="295.85" y2="356.87" class="gg"/>
<line x1="212.5" y1="212.5" x2="356.87" y2="295.85" class="gg"/>
<line x1="212.5" y1="212.5" x2="379.20" y2="212.50" class="gg"/>
<line x1="212.5" y1="212.5" x2="356.87" y2="129.15" class="gg"/>
<line x1="212.5" y1="212.5" x2="295.85" y2="68.13" class="gg"/>
<line x1="212.5" y1="212.5" x2="212.50" y2="45.80" class="gg"/>
<line x1="212.5" y1="212.5" x2="129.15" y2="68.13" class="gg"/>
<line x1="212.5" y1="212.5" x2="68.13" y2="129.15" class="gg"/>
<line x1="212.5" y1="212.5" x2="45.80" y2="212.50" class="gg"/>
<line x1="212.5" y1="212.5" x2="68.13" y2="295.85" class="gg"/>
<line x1="212.5" y1="212.5" x2="129.15" y2="356.87" class="gg"/>
<circle cx="212.5" cy="212.5" r="166.7" class="gg"/></g>
<g mask="url(#ms)"><circle cx="637.5" cy="212.5" r="55.57" class="gg"/>
<circle cx="637.5" cy="212.5" r="111.13" class="gg"/>
<line x1="637.5" y1="212.5" x2="637.50" y2="379.20" class="gg"/>
<line x1="637.5" y1="212.5" x2="720.85" y2="356.87" class="gg"/>
<line x1="637.5" y1="212.5" x2="781.87" y2="295.85" class="gg"/>
<line x1="637.5" y1="212.5" x2="804.20" y2="212.50" class="gg"/>
<line x1="637.5" y1="212.5" x2="781.87" y2="129.15" class="gg"/>
<line x1="637.5" y1="212.5" x2="720.85" y2="68.13" class="gg"/>
<line x1="637.5" y1="212.5" x2="637.50" y2="45.80" class="gg"/>
<line x1="637.5" y1="212.5" x2="554.15" y2="68.13" class="gg"/>
<line x1="637.5" y1="212.5" x2="493.13" y2="129.15" class="gg"/>
<line x1="637.5" y1="212.5" x2="470.80" y2="212.50" class="gg"/>
<line x1="637.5" y1="212.5" x2="493.13" y2="295.85" class="gg"/>
<line x1="637.5" y1="212.5" x2="554.15" y2="356.87" class="gg"/>
<circle cx="637.5" cy="212.5" r="166.7" class="gg"/></g>
<text class="ttl" x="212.5" y="31" text-anchor="middle" textLength="203" lengthAdjust="spacingAndGlyphs">Northern Hemisphere</text>
<text class="ttl" x="637.5" y="31" text-anchor="middle" textLength="207" lengthAdjust="spacingAndGlyphs">Southern Hemisphere</text>
<text class="ln" x="212.5" y="212.7" text-anchor="middle">90</text>
<text class="ln" x="212.5" y="268.3" text-anchor="middle">80</text>
<text class="ln" x="212.5" y="323.8" text-anchor="middle">70</text>
<text class="ln" x="212.5" y="379.4" text-anchor="middle">60</text>
<text class="ln" x="170.8" y="140.8" text-anchor="end">-150</text>
<text class="ln" x="140.3" y="171.3" text-anchor="end">-120</text>
<text class="ln" x="129.2" y="213.0" text-anchor="end">-90</text>
<text class="ln" x="140.3" y="254.7" text-anchor="end">-60</text>
<text class="ln" x="170.8" y="285.2" text-anchor="end">-30</text>
<text class="ln" x="212.5" y="296.4" text-anchor="end">0</text>
<text class="ln" x="254.2" y="285.2" text-anchor="end">30</text>
<text class="ln" x="284.7" y="254.7" text-anchor="end">60</text>
<text class="ln" x="295.9" y="213.0" text-anchor="end">90</text>
<text class="ln" x="284.7" y="171.3" text-anchor="end">120</text>
<text class="ln" x="254.2" y="140.8" text-anchor="end">150</text>
<text class="ln" x="212.5" y="129.7" text-anchor="end">180</text>
<text class="ls" x="637.5" y="212.0" text-anchor="middle">-90</text>
<text class="ls" x="637.5" y="156.4" text-anchor="middle">-80</text>
<text class="ls" x="637.5" y="100.9" text-anchor="middle">-70</text>
<text class="ls" x="637.5" y="45.3" text-anchor="middle">-60</text>
<text class="ls" x="595.8" y="284.2" text-anchor="end">-150</text>
<text class="ls" x="565.3" y="253.7" text-anchor="end">-120</text>
<text class="ls" x="554.1" y="212.0" text-anchor="end">-90</text>
<text class="ls" x="565.3" y="170.3" text-anchor="end">-60</text>
<text class="ls" x="595.8" y="139.8" text-anchor="end">-30</text>
<text class="ls" x="637.5" y="128.7" text-anchor="end">0</text>
<text class="ls" x="679.2" y="139.8" text-anchor="end">30</text>
<text class="ls" x="709.7" y="170.3" text-anchor="end">60</text>
<text class="ls" x="720.9" y="212.0" text-anchor="end">90</text>
<text class="ls" x="709.7" y="253.7" text-anchor="end">120</text>
<text class="ls" x="679.2" y="284.2" text-anchor="end">150</text>
<text class="ls" x="637.5" y="295.4" text-anchor="end">180</text>
<line x1="129.4" y1="144.7" x2="178.8" y2="150.6" stroke="#f00" stroke-width="2.2"/>
<circle cx="157.6" cy="145.9" r="5.8" fill="#f00"/>
<line x1="143.5" y1="132" x2="148.6" y2="161" stroke="#00f" stroke-width="2.2"/>
<line x1="153.5" y1="151" x2="157" y2="170" stroke="#00f" stroke-width="2.2"/>
<circle cx="145.9" cy="148.2" r="5.6" fill="#00f" stroke="#7a1f8a" stroke-width="0.4"/>
<circle cx="152.9" cy="147" r="5.6" fill="#00f" stroke="#7a1f8a" stroke-width="0.4"/>
<line x1="165.3" y1="116.2" x2="207.6" y2="140.9" stroke="#f00" stroke-width="2.2"/>
<circle cx="189.4" cy="126.2" r="5.8" fill="#f00"/>
<line x1="184" y1="108.5" x2="177.6" y2="138.5" stroke="#00f" stroke-width="2.2"/>
<line x1="186" y1="128" x2="181" y2="145" stroke="#00f" stroke-width="2.2"/>
<circle cx="179.4" cy="126.2" r="5.6" fill="#00f" stroke="#7a1f8a" stroke-width="0.4"/>
<circle cx="186.5" cy="126.2" r="5.6" fill="#00f" stroke="#7a1f8a" stroke-width="0.4"/>
<line x1="211" y1="104.4" x2="238.5" y2="145.2" stroke="#f00" stroke-width="2.2"/>
<circle cx="229" cy="124" r="5.8" fill="#f00"/>
<line x1="232" y1="105.6" x2="210.5" y2="140.8" stroke="#00f" stroke-width="2.2"/>
<line x1="224.5" y1="126.4" x2="213" y2="131" stroke="#00f" stroke-width="2.2"/>
<circle cx="220.8" cy="120.8" r="5.6" fill="#00f" stroke="#7a1f8a" stroke-width="0.4"/>
<circle cx="228.3" cy="122.6" r="5.6" fill="#00f" stroke="#7a1f8a" stroke-width="0.4"/>
<line x1="257.5" y1="113.2" x2="265" y2="162.3" stroke="#f00" stroke-width="2.2"/>
<circle cx="264" cy="136" r="5.8" fill="#f00"/>
<line x1="276.4" y1="123.6" x2="242.5" y2="146.2" stroke="#00f" stroke-width="2.2"/>
<circle cx="259.4" cy="133" r="5.6" fill="#00f" stroke="#7a1f8a" stroke-width="0.4"/>
<circle cx="265" cy="137.7" r="5.6" fill="#00f" stroke="#7a1f8a" stroke-width="0.4"/>
<line x1="296.2" y1="140.6" x2="281.4" y2="188" stroke="#f00" stroke-width="2.2"/>
<circle cx="291" cy="165" r="5.8" fill="#f00"/>
<line x1="309.4" y1="159.4" x2="269.8" y2="166" stroke="#00f" stroke-width="2.2"/>
<circle cx="288.7" cy="160.4" r="5.6" fill="#00f" stroke="#7a1f8a" stroke-width="0.4"/>
<circle cx="292.5" cy="167" r="5.6" fill="#00f" stroke="#7a1f8a" stroke-width="0.4"/>
<line x1="318.9" y1="182.7" x2="286" y2="219.8" stroke="#f00" stroke-width="2.2"/>
<line x1="283.9" y1="194.4" x2="323" y2="207" stroke="#00f" stroke-width="2.2"/>
<circle cx="304" cy="197.5" r="5.6" fill="#00f" stroke="#7a1f8a" stroke-width="0.4"/>
<circle cx="304" cy="205" r="5.6" fill="#00f" stroke="#7a1f8a" stroke-width="0.4"/>
<line x1="322" y1="231.4" x2="276.5" y2="250.5" stroke="#f00" stroke-width="2.2"/>
<line x1="285" y1="227.2" x2="314.6" y2="254.7" stroke="#00f" stroke-width="2.2"/>
<circle cx="300.8" cy="237.8" r="5.6" fill="#00f" stroke="#7a1f8a" stroke-width="0.4"/>
<circle cx="297.7" cy="244.2" r="5.6" fill="#00f" stroke="#7a1f8a" stroke-width="0.4"/>
<line x1="253.9" y1="273.6" x2="305.8" y2="276.8" stroke="#f00" stroke-width="2.2"/>
<line x1="271.9" y1="257.7" x2="287.8" y2="295.8" stroke="#00f" stroke-width="2.2"/>
<circle cx="276.1" cy="278.9" r="5.6" fill="#00f" stroke="#7a1f8a" stroke-width="0.4"/>
<circle cx="281.4" cy="273.6" r="5.6" fill="#00f" stroke="#7a1f8a" stroke-width="0.4"/>
<line x1="224.2" y1="286.3" x2="269.8" y2="310.7" stroke="#f00" stroke-width="2.2"/>
<line x1="245.4" y1="278.9" x2="239" y2="308.6" stroke="#00f" stroke-width="2.2"/>
<line x1="246.5" y1="300" x2="244.4" y2="321.3" stroke="#00f" stroke-width="2.2"/>
<circle cx="241.2" cy="299" r="5.6" fill="#00f" stroke="#7a1f8a" stroke-width="0.4"/>
<circle cx="248.6" cy="296.9" r="5.6" fill="#00f" stroke="#7a1f8a" stroke-width="0.4"/>
<line x1="192.3" y1="285.6" x2="222.3" y2="326.1" stroke="#f00" stroke-width="2.2"/>
<line x1="213.5" y1="288.2" x2="193.2" y2="311.1" stroke="#00f" stroke-width="2.2"/>
<line x1="208.2" y1="307.6" x2="194.1" y2="325.3" stroke="#00f" stroke-width="2.2"/>
<circle cx="200.3" cy="302.3" r="5.6" fill="#00f" stroke="#7a1f8a" stroke-width="0.4"/>
<circle cx="209.1" cy="304.1" r="5.6" fill="#00f" stroke="#7a1f8a" stroke-width="0.4"/>
<line x1="163.2" y1="271.5" x2="172.9" y2="320" stroke="#f00" stroke-width="2.2"/>
<line x1="179.1" y1="282" x2="151.8" y2="293.5" stroke="#00f" stroke-width="2.2"/>
<line x1="165" y1="297" x2="150" y2="305" stroke="#00f" stroke-width="2.2"/>
<circle cx="162.3" cy="289.1" r="5.6" fill="#00f" stroke="#7a1f8a" stroke-width="0.4"/>
<circle cx="169.4" cy="294.4" r="5.6" fill="#00f" stroke="#7a1f8a" stroke-width="0.4"/>
<line x1="142" y1="245.6" x2="130.3" y2="292.6" stroke="#f00" stroke-width="2.2"/>
<circle cx="138.5" cy="271.5" r="5.8" fill="#f00"/>
<line x1="120.9" y1="259.7" x2="151.5" y2="260.9" stroke="#00f" stroke-width="2.2"/>
<line x1="112.6" y1="270.3" x2="142" y2="269" stroke="#00f" stroke-width="2.2"/>
<circle cx="135" cy="260.9" r="5.6" fill="#00f" stroke="#7a1f8a" stroke-width="0.4"/>
<circle cx="136.2" cy="268" r="5.6" fill="#00f" stroke="#7a1f8a" stroke-width="0.4"/>
<line x1="110.3" y1="232.6" x2="133.8" y2="213.8" stroke="#f00" stroke-width="2.2"/>
<line x1="108" y1="216.2" x2="137.4" y2="230.3" stroke="#00f" stroke-width="2.2"/>
<circle cx="122.1" cy="222.8" r="5.6" fill="#00f" stroke="#7a1f8a" stroke-width="0.4"/>
<line x1="110.6" y1="187" x2="138.8" y2="178.8" stroke="#f00" stroke-width="2.2"/>
<line x1="116.5" y1="170.6" x2="134" y2="194" stroke="#00f" stroke-width="2.2"/>
<circle cx="125.4" cy="182.4" r="5.6" fill="#00f" stroke="#7a1f8a" stroke-width="0.4"/>
<line x1="615.9" y1="105.6" x2="598.2" y2="151.5" stroke="#f00" stroke-width="2.2"/>
<line x1="595.9" y1="112.6" x2="622.9" y2="140.9" stroke="#00f" stroke-width="2.2"/>
<circle cx="603" cy="128" r="5.6" fill="#00f" stroke="#7a1f8a" stroke-width="0.4"/>
<circle cx="610" cy="124.4" r="5.6" fill="#00f" stroke="#7a1f8a" stroke-width="0.4"/>
<line x1="571.2" y1="124.4" x2="575.9" y2="173.8" stroke="#f00" stroke-width="2.2"/>
<line x1="554.7" y1="139.7" x2="594.7" y2="155" stroke="#00f" stroke-width="2.2"/>
<circle cx="574.7" cy="144.4" r="5.6" fill="#00f" stroke="#7a1f8a" stroke-width="0.4"/>
<circle cx="570" cy="150.3" r="5.6" fill="#00f" stroke="#7a1f8a" stroke-width="0.4"/>
<line x1="540.6" y1="160.9" x2="564" y2="203" stroke="#f00" stroke-width="2.2"/>
<line x1="532.4" y1="182" x2="572.4" y2="178.5" stroke="#00f" stroke-width="2.2"/>
<circle cx="552.4" cy="177.4" r="5.6" fill="#00f" stroke="#7a1f8a" stroke-width="0.4"/>
<circle cx="551.2" cy="185.6" r="5.6" fill="#00f" stroke="#7a1f8a" stroke-width="0.4"/>
<line x1="662.3" y1="108" x2="627.4" y2="141" stroke="#f00" stroke-width="2.2"/>
<circle cx="640.6" cy="123" r="5.8" fill="#f00"/>
<line x1="643.4" y1="105" x2="655.7" y2="142.8" stroke="#00f" stroke-width="2.2"/>
<circle cx="643.4" cy="122" r="5.6" fill="#00f" stroke="#7a1f8a" stroke-width="0.4"/>
<circle cx="651" cy="121.1" r="5.6" fill="#00f" stroke="#7a1f8a" stroke-width="0.4"/>
<line x1="703.8" y1="128.7" x2="657.5" y2="144.7" stroke="#f00" stroke-width="2.2"/>
<circle cx="677.4" cy="133.4" r="5.8" fill="#f00"/>
<line x1="688.7" y1="118.3" x2="688.7" y2="148.5" stroke="#00f" stroke-width="2.2"/>
<line x1="682" y1="136" x2="683" y2="158" stroke="#00f" stroke-width="2.2"/>
<circle cx="681" cy="135.3" r="5.6" fill="#00f" stroke="#7a1f8a" stroke-width="0.4"/>
<circle cx="688.7" cy="135.3" r="5.6" fill="#00f" stroke="#7a1f8a" stroke-width="0.4"/>
<line x1="702.4" y1="163.5" x2="731.8" y2="164.7" stroke="#f00" stroke-width="2.2"/>
<line x1="723.5" y1="150.6" x2="710.6" y2="176.5" stroke="#00f" stroke-width="2.2"/>
<circle cx="716.5" cy="164.7" r="5.6" fill="#00f" stroke="#7a1f8a" stroke-width="0.4"/>
<line x1="715.3" y1="195.3" x2="742.4" y2="209.4" stroke="#f00" stroke-width="2.2"/>
<line x1="740" y1="194" x2="718.8" y2="211.8" stroke="#00f" stroke-width="2.2"/>
<circle cx="729.4" cy="202.4" r="5.6" fill="#00f" stroke="#7a1f8a" stroke-width="0.4"/>
<line x1="715.3" y1="229.7" x2="735.3" y2="273.2" stroke="#f00" stroke-width="2.2"/>
<circle cx="723.5" cy="253.2" r="5.8" fill="#f00"/>
<line x1="708.2" y1="246.2" x2="737.6" y2="240.3" stroke="#00f" stroke-width="2.2"/>
<line x1="725" y1="249" x2="739.3" y2="247.4" stroke="#00f" stroke-width="2.2"/>
<circle cx="724.7" cy="242.6" r="5.6" fill="#00f" stroke="#7a1f8a" stroke-width="0.4"/>
<circle cx="725.9" cy="248.5" r="5.6" fill="#00f" stroke="#7a1f8a" stroke-width="0.4"/>
<line x1="700" y1="260.3" x2="700" y2="308.5" stroke="#f00" stroke-width="2.2"/>
<circle cx="696.5" cy="285" r="5.8" fill="#f00"/>
<line x1="685.9" y1="273.2" x2="715.3" y2="279.1" stroke="#00f" stroke-width="2.2"/>
<line x1="696.5" y1="282" x2="722.4" y2="289.7" stroke="#00f" stroke-width="2.2"/>
<circle cx="702.4" cy="275.6" r="5.6" fill="#00f" stroke="#7a1f8a" stroke-width="0.4"/>
<circle cx="698.8" cy="281.5" r="5.6" fill="#00f" stroke="#7a1f8a" stroke-width="0.4"/>
<line x1="673" y1="280.3" x2="653" y2="325" stroke="#f00" stroke-width="2.2"/>
<line x1="654.1" y1="287.4" x2="678.8" y2="318" stroke="#00f" stroke-width="2.2"/>
<circle cx="663.5" cy="300.3" r="5.6" fill="#00f" stroke="#7a1f8a" stroke-width="0.4"/>
<circle cx="669.4" cy="299.1" r="5.6" fill="#00f" stroke="#7a1f8a" stroke-width="0.4"/>
<line x1="609" y1="282" x2="561" y2="295" stroke="#f00" stroke-width="2.2"/>
<line x1="590" y1="270" x2="591" y2="298" stroke="#00f" stroke-width="2.2"/>
<line x1="584" y1="290" x2="583" y2="311" stroke="#00f" stroke-width="2.2"/>
<circle cx="584" cy="287" r="5.6" fill="#00f" stroke="#7a1f8a" stroke-width="0.4"/>
<circle cx="591" cy="292" r="5.6" fill="#00f" stroke="#7a1f8a" stroke-width="0.4"/>
<line x1="641" y1="288" x2="604" y2="321" stroke="#f00" stroke-width="2.2"/>
<line x1="620" y1="286" x2="631" y2="325" stroke="#00f" stroke-width="2.2"/>
<circle cx="621" cy="302" r="5.6" fill="#00f" stroke="#7a1f8a" stroke-width="0.4"/>
<circle cx="630" cy="304" r="5.6" fill="#00f" stroke="#7a1f8a" stroke-width="0.4"/>
<line x1="526.2" y1="207" x2="567.5" y2="235.5" stroke="#f00" stroke-width="2.2"/>
<line x1="564.3" y1="210" x2="527.2" y2="231.3" stroke="#00f" stroke-width="2.2"/>
<circle cx="546.3" cy="217.5" r="5.6" fill="#00f" stroke="#7a1f8a" stroke-width="0.4"/>
<circle cx="547.4" cy="226" r="5.6" fill="#00f" stroke="#7a1f8a" stroke-width="0.4"/>
<line x1="533.6" y1="254.6" x2="583.4" y2="263" stroke="#f00" stroke-width="2.2"/>
<line x1="569.6" y1="244" x2="546.3" y2="276.9" stroke="#00f" stroke-width="2.2"/>
<circle cx="556.9" cy="256.7" r="5.6" fill="#00f" stroke="#7a1f8a" stroke-width="0.4"/>
<circle cx="562.2" cy="263" r="5.6" fill="#00f" stroke="#7a1f8a" stroke-width="0.4"/>
<text class="t" x="29" y="414" style="fill:#f00;stroke:#f00" textLength="111" lengthAdjust="spacingAndGlyphs">Red line: FY3D</text>
<text class="t" x="255" y="414" style="fill:#00f;stroke:#00f" textLength="149" lengthAdjust="spacingAndGlyphs">Blue line: METOP-C</text>
<text class="t" x="454" y="414" style="stroke:#000" textLength="167" lengthAdjust="spacingAndGlyphs">TLE Epoch: 2021/7/24</text>
</svg>
</body></html>
